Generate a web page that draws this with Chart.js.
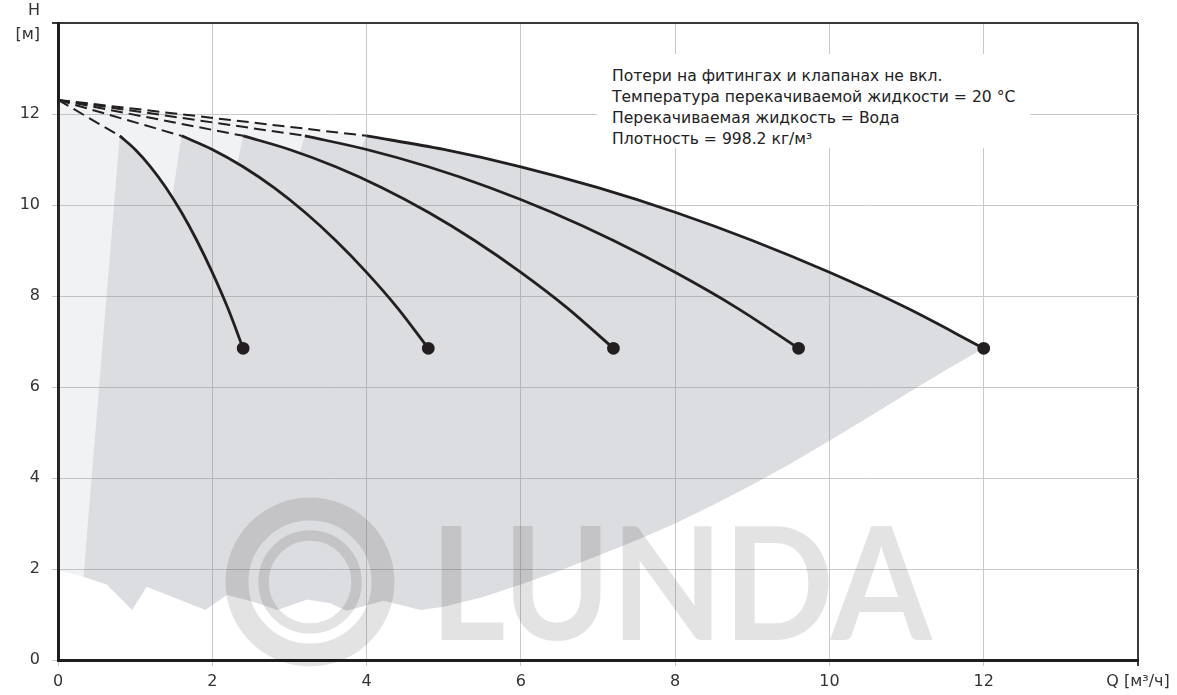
<!DOCTYPE html>
<html>
<head>
<meta charset="utf-8">
<script src="https://cdn.jsdelivr.net/npm/chart.js@4/dist/chart.umd.min.js"></script>
<style>
    body { margin: 0; background: #fff; }
    #wrap { position: relative; width: 1177px; height: 695px; }
    #note {
        position: absolute; left: 597px; top: 54px; width: 433px; height: 94px;
        box-sizing: border-box; padding: 12px 0 0 15px; background: #fff;
        font: 15.6px "DejaVu Sans", sans-serif; line-height: 21px; color: #222;
        white-space: nowrap;
    }
</style>
</head>
<body>
<div id="wrap">
    <canvas id="pumpChart" width="1177" height="695"></canvas>
    <div id="note">
        Потери на фитингах и клапанах не вкл.<br>
        Температура перекачиваемой жидкости = 20 °C<br>
        Перекачиваемая жидкость = Вода<br>
        Плотность = 998.2 кг/м³
    </div>
</div>
<script>
// axis labels (shown at the last tick of each axis)
const xAxisLabel = 'Q [м³/ч]';
const yAxisLabel = ['H', '[м]'];

// head values along each speed curve (m)
const curveHead = [11.52, 11.22, 10.84, 10.38, 9.84, 9.22, 8.52, 7.74, 6.85];

// flow values of the speed curves (m³/h)
const flow20 = [0.8, 1.0, 1.2, 1.4, 1.6, 1.8, 2.0, 2.2, 2.4];
const flow40 = [1.6, 2.0, 2.4, 2.8, 3.2, 3.6, 4.0, 4.4, 4.8];
const flow60 = [2.4, 3.0, 3.6, 4.2, 4.8, 5.4, 6.0, 6.6, 7.2];
const flow80 = [3.2, 4.0, 4.8, 5.6, 6.4, 7.2, 8.0, 8.8, 9.6];
const flow100 = [4.0, 5.0, 6.0, 7.0, 8.0, 9.0, 10.0, 11.0, 12.0];

// shut-off head where the dashed lines start
const shutoffHead = 12.31;

// upper edge of the light area (dashed line to the max curve)
const envTopQ = [0, 4.0];
const envTopH = [12.31, 11.52];

// operating range - upper outline
const rangeTopQ = [0, 0.33, 0.8, 1.0, 1.2, 1.4, 1.48, 1.6, 2.0, 2.32, 2.4, 3.0, 3.13, 3.2, 3.6, 3.93, 4.0, 5, 6, 7, 8, 9, 10, 11, 12];
const rangeTopH = [1.98, 1.83, 11.52, 11.22, 10.84, 10.38, 10.16, 11.52, 11.22, 10.9, 11.52, 11.22, 11.13, 11.52, 11.37, 11.25, 11.52, 11.22, 10.84, 10.38, 9.84, 9.22, 8.52, 7.74, 6.85];

// operating range - lower outline
const rangeBottomQ = [0, 0.33, 0.63, 0.96, 1.15, 1.91, 2.19, 2.53, 2.84, 3.23, 3.53, 3.74, 4.22, 4.44, 4.70, 5.0, 5.5, 6.0, 6.5, 7.0, 7.5, 8.0, 8.5, 9.0, 9.5, 10.0, 10.5, 11.0, 11.5, 12];
const rangeBottomH = [1.98, 1.83, 1.66, 1.10, 1.61, 1.10, 1.43, 1.28, 1.10, 1.33, 1.25, 1.08, 1.30, 1.21, 1.10, 1.17, 1.38, 1.66, 1.96, 2.29, 2.63, 3.00, 3.41, 3.85, 4.32, 4.82, 5.33, 5.85, 6.36, 6.85];

const LINE = '#231f20';

function toPoints(qs, hs) {
    return qs.map((q, i) => ({ x: q, y: hs[i] }));
}

const speedFlows = [flow20, flow40, flow60, flow80, flow100];

// solid speed curves with the end dot
const curveSets = speedFlows.map(qs => ({
    data: toPoints(qs, curveHead),
    showLine: true,
    borderColor: LINE,
    backgroundColor: LINE,
    borderWidth: 2.8,
    cubicInterpolationMode: 'monotone',
    pointRadius: ctx => ctx.dataIndex === qs.length - 1 ? 5 : 0,
    pointHoverRadius: 0
}));

// dashed lines from shut-off head to each curve start
const dashSets = speedFlows.map(qs => ({
    data: [{ x: 0, y: shutoffHead }, { x: qs[0], y: curveHead[0] }],
    showLine: true,
    borderColor: LINE,
    borderWidth: 2,
    borderDash: [12, 6],
    pointRadius: 0
}));

const n = curveSets.length + dashSets.length;

const areaSets = [
    {
        // operating range (fills down to the lower outline)
        data: toPoints(rangeTopQ, rangeTopH),
        showLine: true,
        borderWidth: 0,
        pointRadius: 0,
        backgroundColor: 'rgba(130, 134, 142, 0.28)',
        fill: n + 1
    },
    {
        data: toPoints(rangeBottomQ, rangeBottomH),
        showLine: true,
        borderWidth: 0,
        pointRadius: 0,
        fill: false
    },
    {
        // light area under the dashed lines
        data: toPoints(envTopQ, envTopH),
        showLine: true,
        borderWidth: 0,
        pointRadius: 0,
        backgroundColor: 'rgba(130, 134, 142, 0.11)',
        fill: n
    }
];

// faint logo in the lower part of the plot
const watermark = {
    id: 'watermark',
    afterDraw(chart) {
        const ctx = chart.ctx;
        ctx.save();
        ctx.strokeStyle = 'rgba(0, 0, 0, 0.11)';
        ctx.fillStyle = 'rgba(0, 0, 0, 0.11)';
        ctx.lineWidth = 23;
        ctx.beginPath();
        ctx.arc(310, 582, 73, 0, Math.PI * 2);
        ctx.stroke();
        ctx.lineWidth = 10.5;
        ctx.beginPath();
        ctx.arc(310, 582, 46.5, 0, Math.PI * 2);
        ctx.stroke();
        ctx.font = 'bold 158px Lato';
        ctx.textBaseline = 'alphabetic';
        ctx.fillText('LUNDA', 430, 640, 502);
        ctx.restore();
    }
};

const gridColor = c => (c.tick && c.tick.value === 14) ? '#3a3a3a' : '#c9c9c9';
const gridWidth = c => (c.tick && c.tick.value === 14) ? 2 : 1;
const tickFont = { family: 'DejaVu Sans', size: 16, lineHeight: 1.5 };

new Chart(document.getElementById('pumpChart'), {
    type: 'scatter',
    data: { datasets: [...curveSets, ...dashSets, ...areaSets] },
    options: {
        responsive: false,
        animation: false,
        devicePixelRatio: 1,
        layout: { padding: { top: 23, right: 39, left: 0, bottom: 0 } },
        plugins: {
            legend: { display: false },
            tooltip: { enabled: false }
        },
        scales: {
            x: {
                type: 'linear',
                min: 0,
                max: 14,
                afterFit: scale => {
                    scale.height = 35;
                    scale.paddingLeft = 0;
                    scale.paddingRight = 0;
                },
                border: { color: '#1e1e1e', width: 3 },
                grid: { color: gridColor, lineWidth: gridWidth, tickLength: 6 },
                ticks: {
                    stepSize: 2,
                    padding: 4,
                    color: '#333',
                    font: tickFont,
                    maxRotation: 0,
                    callback: v => v === 14 ? xAxisLabel : v
                }
            },
            y: {
                type: 'linear',
                min: 0,
                max: 14,
                afterFit: scale => {
                    scale.width = 58;
                    scale.paddingTop = 0;
                    scale.paddingBottom = 0;
                },
                border: { color: '#1e1e1e', width: 3 },
                grid: { color: gridColor, lineWidth: gridWidth, tickLength: 6 },
                ticks: {
                    stepSize: 2,
                    padding: 12,
                    color: '#333',
                    font: tickFont,
                    callback: v => v === 14 ? yAxisLabel : v
                }
            }
        }
    },
    plugins: [watermark]
});
</script>
</body>
</html>
